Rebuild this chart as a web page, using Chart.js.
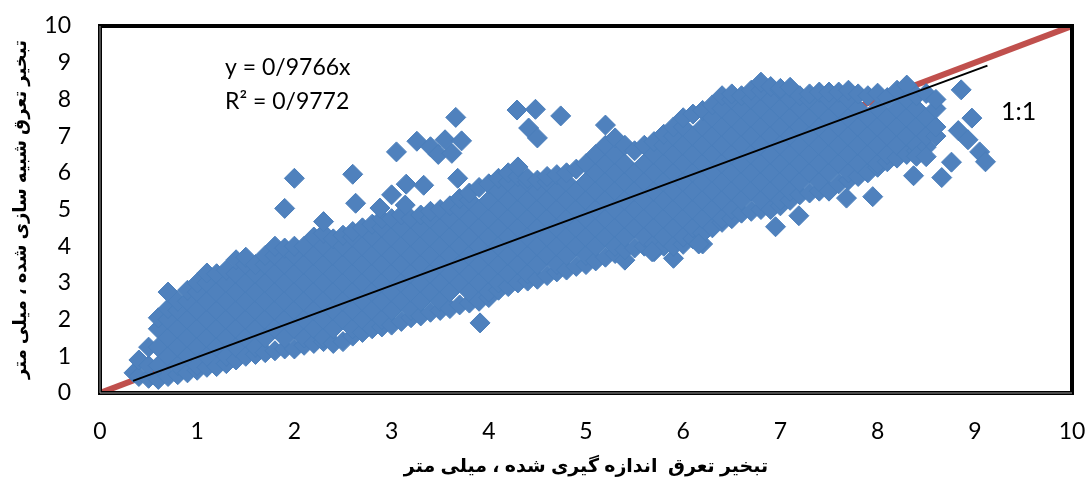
<!DOCTYPE html>
<html lang="fa">
<head>
<meta charset="utf-8">
<title>Evapotranspiration</title>
<script src="https://cdn.jsdelivr.net/npm/chart.js@4"></script>
<style>
    html, body { margin: 0; padding: 0; background: #fff; }
</style>
</head>
<body>
<canvas id="scatterChart" width="1086" height="479"></canvas>
<script>
// Valori
var tickLabels = ['0', '1', '2', '3', '4', '5', '6', '7', '8', '9', '10'];
var xTitle = 'تبخیر تعرق  اندازه گیری شده ، میلی متر';
var yTitle = 'تبخیر تعرق شبیه سازی شده ، میلی متر';
var equationLines = ['y = 0/9766x', 'R² = 0/9772'];
var lineLabel = '1:1';

var measured = [
    0.35, 0.4, 0.5, 0.6, 0.7, 0.8, 0.9, 1.0, 1.1, 1.2, 1.3, 1.4, 1.5, 1.6, 1.7, 1.8, 1.9, 2.0,
    2.1, 2.2, 2.3, 2.4, 2.5, 2.6, 2.7, 2.8, 2.9, 3.0, 3.1, 3.2, 3.3, 3.4, 3.5, 3.6, 3.7, 3.8,
    3.9, 4.0, 4.1, 4.2, 4.3, 4.4, 4.5, 4.6, 4.7, 4.8, 4.9, 5.0, 5.1, 5.2, 5.3, 5.4, 5.5, 5.6,
    5.7, 5.8, 5.9, 6.0, 6.1, 6.2, 6.3, 6.4, 6.5, 6.6, 6.7, 6.8, 6.9, 7.0, 7.1, 7.2, 7.3, 7.4,
    7.5, 7.6, 7.7, 7.8, 7.9, 8.0, 8.1, 8.2, 8.3, 8.4, 8.5, 8.6
];
var simulated = [
    [0.55],
    [0.45, 0.9],
    [0.4, 0.75, 1.25],
    [0.37, 0.75, 1.25, 1.75, 2.05],
    [0.45, 1, 1.5, 2, 2.3, 2.75],
    [0.5, 0.75, 1.25, 1.75, 2.25, 2.5],
    [0.55, 1, 1.5, 2, 2.5, 2.8],
    [0.62, 0.75, 1.25, 1.75, 2.25, 2.75, 3],
    [0.7, 1, 1.5, 2, 2.5, 3, 3.27],
    [0.72, 1.25, 1.75, 2.25, 2.75, 3.25],
    [0.8, 1, 1.5, 2, 2.5, 3, 3.35],
    [0.9, 1.25, 1.75, 2.25, 2.75, 3.25, 3.63],
    [1, 1.5, 2, 2.5, 3, 3.5, 3.7],
    [1.05, 1.25, 1.75, 2.25, 2.75, 3.25, 3.5],
    [1.1, 1.5, 2, 2.5, 3, 3.5, 3.75],
    [1.15, 1.75, 2.25, 2.75, 3.25, 3.75, 4],
    [1.2, 1.5, 2, 2.5, 3, 3.5, 3.95],
    [1.2, 1.75, 2.25, 2.75, 3.25, 3.75, 4],
    [1.3, 1.5, 2, 2.5, 3, 3.5, 4],
    [1.35, 1.75, 2.25, 2.75, 3.25, 3.75, 4.25],
    [1.4, 1.5, 2, 2.5, 3, 3.5, 4, 4.35, 4.67],
    [1.35, 1.75, 2.25, 2.75, 3.25, 3.75, 4.2],
    [1.4, 2, 2.5, 3, 3.5, 4, 4.3],
    [1.55, 1.75, 2.25, 2.75, 3.25, 3.75, 4.25, 4.4],
    [1.65, 2, 2.5, 3, 3.5, 4, 4.5],
    [1.75, 2.25, 2.75, 3.25, 3.75, 4.25, 4.6],
    [1.8, 2, 2.5, 3, 3.5, 4, 4.5, 4.75],
    [1.85, 2.25, 2.75, 3.25, 3.75, 4.25, 4.75],
    [1.95, 2.5, 3, 3.5, 4, 4.5, 4.85],
    [2.05, 2.25, 2.75, 3.25, 3.75, 4.25, 4.75],
    [2.1, 2.5, 3, 3.5, 4, 4.5, 4.85],
    [2.2, 2.75, 3.25, 3.75, 4.25, 4.75, 4.95],
    [2.25, 2.5, 3, 3.5, 4, 4.5, 5],
    [2.3, 2.75, 3.25, 3.75, 4.25, 4.75, 5.1],
    [2.4, 3, 3.5, 4, 4.5, 5, 5.3],
    [2.45, 2.75, 3.25, 3.75, 4.25, 4.75, 5.25, 5.45],
    [2.5, 3, 3.5, 4, 4.5, 5, 5.6],
    [2.6, 2.75, 3.25, 3.75, 4.25, 4.75, 5.25, 5.7],
    [2.8, 3, 3.5, 4, 4.5, 5, 5.5, 5.85],
    [2.9, 3.25, 3.75, 4.25, 4.75, 5.25, 5.75, 6],
    [3, 3.5, 4, 4.5, 5, 5.5, 5.9, 6.16],
    [3.05, 3.25, 3.75, 4.25, 4.75, 5.25, 5.75, 5.85],
    [3.1, 3.5, 4, 4.5, 5, 5.5, 5.8],
    [3.2, 3.75, 4.25, 4.75, 5.25, 5.75, 5.9],
    [3.3, 3.5, 4, 4.5, 5, 5.5, 5.95],
    [3.35, 3.75, 4.25, 4.75, 5.25, 5.75, 6],
    [3.45, 4, 4.5, 5, 5.5, 6.1],
    [3.5, 3.75, 4.25, 4.75, 5.25, 5.75, 6.25],
    [3.6, 4, 4.5, 5, 5.5, 6, 6.5],
    [3.7, 4.25, 4.75, 5.25, 5.75, 6.25, 6.75, 7.3],
    [3.8, 4, 4.5, 5, 5.5, 6, 6.5, 6.95],
    [3.62, 3.9, 4.25, 4.75, 5.25, 5.75, 6.25, 6.75],
    [3.95, 4.5, 5, 5.5, 6, 6.6],
    [4, 4.25, 4.75, 5.25, 5.75, 6.25, 6.75],
    [3.85, 4.05, 4.5, 5, 5.5, 6, 6.5, 6.85],
    [4, 4.25, 4.75, 5.25, 5.75, 6.25, 6.75, 7.05],
    [3.67, 4, 4.5, 5, 5.5, 6, 6.5, 7, 7.25],
    [4.05, 4.25, 4.75, 5.25, 5.75, 6.25, 6.75, 7.25, 7.5],
    [4.2, 4.5, 5, 5.5, 6, 6.5, 7, 7.6],
    [4.06, 4.35, 4.75, 5.25, 5.75, 6.25, 6.75, 7.25, 7.7],
    [4.5, 5, 5.5, 6, 6.5, 7, 7.5, 7.85],
    [4.65, 4.75, 5.25, 5.75, 6.25, 6.75, 7.25, 7.75, 8.1],
    [4.75, 5, 5.5, 6, 6.5, 7, 7.5, 8, 8.15],
    [4.9, 5.25, 5.75, 6.25, 6.75, 7.25, 7.75, 8.1],
    [4.95, 5.5, 6, 6.5, 7, 7.5, 8, 8.25],
    [5, 5.25, 5.75, 6.25, 6.75, 7.25, 7.75, 8.25, 8.47],
    [5, 5.5, 6, 6.5, 7, 7.5, 8, 8.35],
    [5.1, 5.25, 5.75, 6.25, 6.75, 7.25, 7.75, 8.25, 8.3],
    [5.25, 5.5, 6, 6.5, 7, 7.5, 8, 8.33],
    [5.4, 5.75, 6.25, 6.75, 7.25, 7.75, 8.1],
    [5.45, 6, 6.5, 7, 7.5, 8, 8.15],
    [5.5, 5.75, 6.25, 6.75, 7.25, 7.75, 8.2],
    [5.5, 6, 6.5, 7, 7.5, 8, 8.2],
    [5.7, 6.25, 6.75, 7.25, 7.75, 8.2],
    [5.8, 6, 6.5, 7, 7.5, 8, 8.25],
    [5.9, 6.25, 6.75, 7.25, 7.75, 8.15],
    [6, 6.5, 7, 7.5, 8.1],
    [6.15, 6.25, 6.75, 7.25, 7.75, 8.17],
    [6.3, 6.5, 7, 7.5, 8.05],
    [6.4, 6.75, 7.25, 7.75, 8.25],
    [6.5, 7, 7.5, 8, 8.39],
    [6.6, 6.75, 7.25, 7.75, 8.1],
    [6.7, 7, 7.5, 8.16],
    [7, 7.25, 7.75, 8]
];

// Punti isolati fuori dalla nuvola
var outlierX = [
    1.9, 2.0, 2.6, 2.63, 2.88, 3.0, 3.05, 3.14, 3.15, 3.26, 3.33, 3.4, 3.48, 3.55, 3.62, 3.66,
    3.68, 3.72, 3.91, 4.29, 4.41, 4.48, 4.5, 4.74, 5.68, 6.16, 6.95, 7.19, 7.68, 7.95, 8.37,
    8.4, 8.5, 8.66, 8.76, 8.83, 8.86, 8.93, 8.97, 9.05, 9.11
];
var outlierY = [
    5.03, 5.85, 5.96, 5.17, 5.04, 5.4, 6.57, 5.12, 5.69, 6.86, 5.66, 6.71, 6.5, 6.9, 6.53, 7.51,
    5.85, 6.87, 1.91, 7.71, 7.22, 7.73, 6.95, 7.55, 3.85, 4.06, 4.53, 4.83, 5.31, 5.35, 5.92,
    6.45, 6.44, 5.87, 6.29, 7.15, 8.26, 6.9, 7.49, 6.57, 6.3
];

var oneToOneX = [0, 10];
var oneToOneY = [0, 10];
var trendX = [0.34, 9.13];
var trendY = [0.33, 8.92];

function toPoints(xs, ys) {
    return xs.map(function (x, i) { return { x: x, y: ys[i] }; });
}

var cloudPoints = [];
measured.forEach(function (x, i) {
    simulated[i].forEach(function (y) { cloudPoints.push({ x: x, y: y }); });
});

// Cornice e testi sul grafico
var framePlugin = {
    id: 'frame',
    afterDraw: function (chart) {
        var ctx = chart.ctx;
        var a = chart.chartArea;
        var sx = chart.scales.x;
        var sy = chart.scales.y;
        ctx.save();
        ctx.strokeStyle = '#000';
        ctx.lineWidth = 4;
        ctx.strokeRect(a.left, a.top, a.right - a.left, a.bottom - a.top);
        ctx.strokeStyle = '#9a9a9a';
        ctx.lineWidth = 1;
        ctx.beginPath();
        ctx.moveTo(a.left, a.top);
        ctx.lineTo(a.left, a.bottom);
        ctx.lineTo(a.right, a.bottom);
        ctx.stroke();
        ctx.strokeStyle = '#C0504D';
        ctx.restore();
        ctx.save();
        ctx.fillStyle = '#000';
        ctx.font = '23px Lato';
        ctx.textAlign = 'left';
        ctx.textBaseline = 'middle';
        ctx.fillText(equationLines[0], sx.getPixelForValue(1.286), sy.getPixelForValue(8.86));
        ctx.fillText(equationLines[1], sx.getPixelForValue(1.286), sy.getPixelForValue(7.93));
        ctx.font = '25px Lato';
        ctx.fillText(lineLabel, sx.getPixelForValue(9.27), sy.getPixelForValue(7.66));
        ctx.restore();
    }
};

var ctx = document.getElementById('scatterChart').getContext('2d');
window.scatterChart = new Chart(ctx, {
    type: 'scatter',
    data: {
        datasets: [{
            label: 'Trend',
            data: toPoints(trendX, trendY),
            showLine: true,
            borderColor: '#000',
            borderWidth: 2,
            pointRadius: 0,
            order: 0
        }, {
            label: 'Outliers',
            data: toPoints(outlierX, outlierY),
            pointStyle: 'rectRot',
            pointRadius: 10,
            backgroundColor: '#4F81BD',
            borderColor: '#4A7EBB',
            borderWidth: 1,
            order: 1
        }, {
            label: 'Cloud',
            data: cloudPoints,
            pointStyle: 'rectRot',
            pointRadius: 10,
            backgroundColor: '#4F81BD',
            borderColor: '#4A7EBB',
            borderWidth: 1,
            order: 1
        }, {
            label: '1:1',
            data: toPoints(oneToOneX, oneToOneY),
            showLine: true,
            borderColor: '#C0504D',
            borderWidth: 6,
            pointRadius: 0,
            order: 2
        }]
    },
    options: {
        responsive: false,
        animation: false,
        layout: { padding: { top: 26, right: 14 } },
        plugins: {
            legend: { display: false },
            tooltip: { enabled: false }
        },
        scales: {
            x: {
                type: 'linear',
                min: 0,
                max: 10,
                afterFit: function (scale) {
                    scale.height = 86;
                    scale.paddingLeft = 0;
                    scale.paddingRight = 0;
                },
                grid: { display: false },
                border: { display: false },
                ticks: {
                    stepSize: 1,
                    maxRotation: 0,
                    padding: 17,
                    color: '#000',
                    font: { family: 'Lato', size: 23 },
                    callback: function (value) { return tickLabels[value]; }
                },
                title: {
                    display: true,
                    text: xTitle,
                    color: '#000',
                    font: { family: '"Liberation Sans", "DejaVu Sans"', size: 19, weight: 'bold' },
                    padding: { top: 0, bottom: 1 }
                }
            },
            y: {
                type: 'linear',
                min: 0,
                max: 10,
                afterFit: function (scale) {
                    scale.width = 100;
                    scale.paddingTop = 0;
                    scale.paddingBottom = 0;
                },
                grid: { display: false },
                border: { display: false },
                ticks: {
                    stepSize: 1,
                    padding: 21,
                    color: '#000',
                    font: { family: 'Lato', size: 23 },
                    callback: function (value) { return tickLabels[value]; }
                },
                title: {
                    display: true,
                    text: yTitle,
                    color: '#000',
                    font: { family: '"Liberation Sans", "DejaVu Sans"', size: 18, weight: 'bold' },
                    padding: { top: 10, bottom: 0 }
                }
            }
        }
    },
    plugins: [framePlugin]
});
</script>
</body>
</html>
